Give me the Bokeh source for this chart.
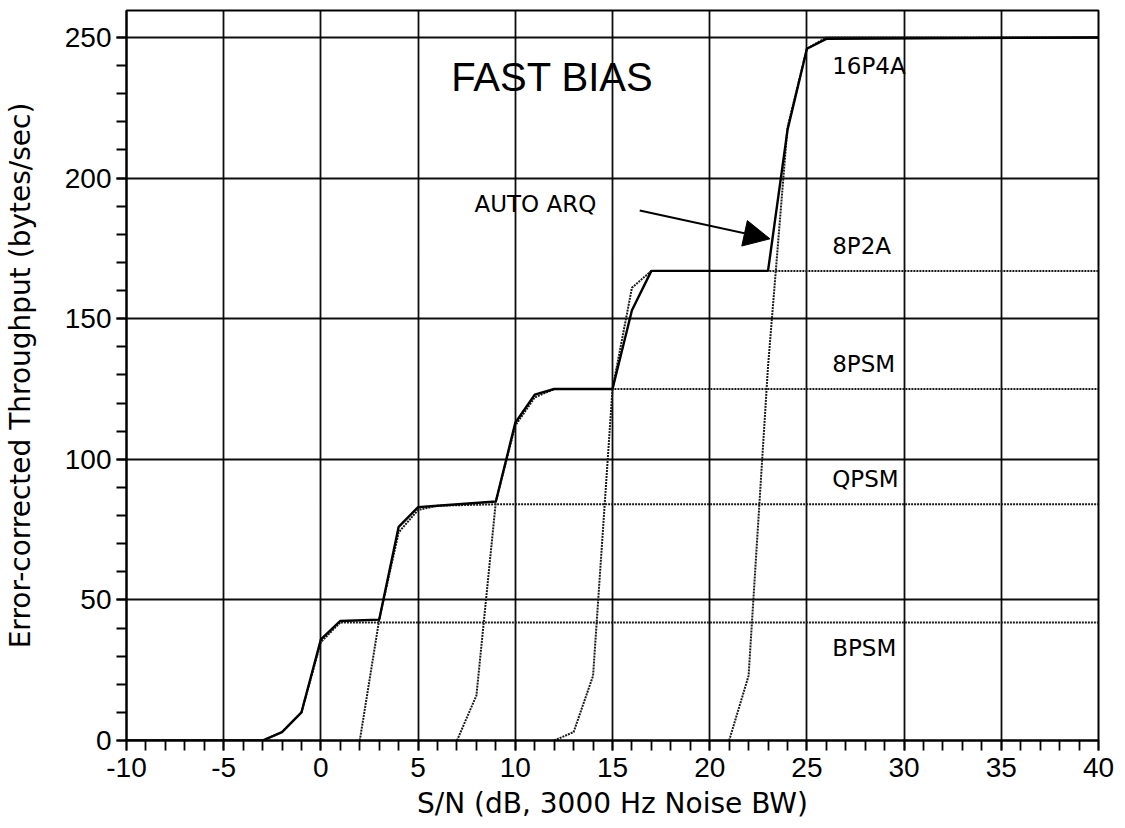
from bokeh.plotting import figure
from bokeh.models import Range1d, SingleIntervalTicker, Label, Arrow, NormalHead, ColumnDataSource
from bokeh.core.properties import value
from bokeh.embed import file_html
from bokeh.resources import INLINE

# ---- data (S/N in dB, throughput in bytes/sec) ----
auto_sn = [-10, -3, -2, -1, 0, 1, 3, 4, 5, 6, 9, 10, 11, 12, 15, 16, 17, 23, 24, 25, 26, 40]
auto_thr = [0, 0, 3, 10, 36, 42.5, 43, 76, 83, 83.5, 85, 113, 123, 125, 125, 153, 167, 167, 217, 246, 249.5, 250]

bpsm_sn = [-3, -2, -1, 0, 1, 40]
bpsm_thr = [0, 3, 10, 35, 42, 42]

qpsm_sn = [2, 3, 4, 5, 6, 9, 40]
qpsm_thr = [0, 43, 74, 82, 83.5, 84, 84]

psm8_sn = [7, 8, 9, 10, 11, 12, 40]
psm8_thr = [0, 16, 85, 112, 122, 125, 125]

p8p2a_sn = [12, 13, 14, 15, 16, 17, 40]
p8p2a_thr = [0, 3, 23, 125, 161, 167, 167]

p16p4a_sn = [21, 22, 23, 24, 25, 26, 40]
p16p4a_thr = [0, 23, 133, 218, 246, 250, 250]

mode_names = ["16P4A", "8P2A", "8PSM", "QPSM", "BPSM"]
mode_label_x = [26.3, 26.3, 26.3, 26.3, 26.3]
mode_label_y = [240, 176, 134, 93, 33]

x_tick_overrides = {-10: "-10", -5: "-5"}

title_text = "FAST BIAS"
title_x, title_y = 6.7, 236
arq_text = "AUTO ARQ"
arq_x, arq_y = 7.9, 190.8
arrow_start = (16.4, 188.5)
arrow_end = (23.1, 178.4)

x_label = "S/N (dB, 3000 Hz Noise BW)"
y_label = "Error-corrected Throughput (bytes/sec)"

# ---- figure ----
p = figure(frame_width=972, frame_height=730,
           x_range=Range1d(-10, 40), y_range=Range1d(0, 259.6),
           output_backend="svg", toolbar_location=None,
           min_border_left=120, min_border_right=20,
           min_border_top=10, min_border_bottom=80)
p.background_fill_color = "white"
p.border_fill_color = "white"
p.outline_line_color = "black"
p.outline_line_width = 2
p.outline_line_alpha = 1

xt = SingleIntervalTicker(interval=5, num_minor_ticks=5)
yt = SingleIntervalTicker(interval=50, num_minor_ticks=5)
p.xaxis.ticker = xt
p.yaxis.ticker = yt
p.xgrid.ticker = xt
p.ygrid.ticker = yt
for g in (p.xgrid, p.ygrid):
    g.grid_line_color = "black"
    g.grid_line_alpha = 0.95
    g.grid_line_width = 1.8

for ax in (p.xaxis, p.yaxis):
    ax.axis_line_color = "black"
    ax.axis_line_width = 2
    ax.major_tick_line_color = "black"
    ax.minor_tick_line_color = "black"
    ax.major_tick_line_width = 1.8
    ax.minor_tick_line_width = 1.8
    ax.major_tick_out = 10
    ax.major_tick_in = 0
    ax.minor_tick_out = 10
    ax.minor_tick_in = 0
    ax.major_label_text_font = "Liberation Sans"
    ax.major_label_text_font_size = "28px"
    ax.major_label_text_color = "black"
    ax.axis_label_text_font = "DejaVu Sans"
    ax.axis_label_text_font_size = "28px"
    ax.axis_label_text_font_style = "normal"
    ax.axis_label_text_color = "black"

p.xaxis.major_label_overrides = x_tick_overrides
p.xaxis.axis_label = x_label
p.yaxis.axis_label = y_label
p.xaxis.major_label_standoff = 7
p.xaxis.axis_label_standoff = 7
p.yaxis.major_label_standoff = 5
p.yaxis.axis_label_standoff = 25

# ---- curves ----
dot_kw = dict(line_color="#1a1a1a", line_width=2, line_dash="2 1")
p.line(bpsm_sn, bpsm_thr, **dot_kw)
p.line(qpsm_sn, qpsm_thr, **dot_kw)
p.line(psm8_sn, psm8_thr, **dot_kw)
p.line(p8p2a_sn, p8p2a_thr, **dot_kw)
p.line(p16p4a_sn, p16p4a_thr, **dot_kw)
p.line(auto_sn, auto_thr, line_color="black", line_width=2.4)

# ---- labels ----
src = ColumnDataSource(dict(x=mode_label_x, y=mode_label_y, t=mode_names))
p.text(x="x", y="y", text="t", source=src, text_font=value("DejaVu Sans"),
       text_font_size="23px", text_align="left", text_baseline="middle", text_color="black")

p.add_layout(Label(x=title_x, y=title_y, text=title_text, text_font="Liberation Sans",
                   text_font_size="40px", text_baseline="middle", text_align="left",
                   text_color="black"))
p.add_layout(Label(x=arq_x, y=arq_y, text=arq_text, text_font="DejaVu Sans",
                   text_font_size="23px", text_baseline="middle", text_align="left",
                   text_color="black"))
p.add_layout(Arrow(x_start=arrow_start[0], y_start=arrow_start[1],
                   x_end=arrow_end[0], y_end=arrow_end[1],
                   line_color="black", line_width=2,
                   end=NormalHead(size=26, fill_color="black", line_color="black")))

open("out.html", "w").write(file_html(p, INLINE))
